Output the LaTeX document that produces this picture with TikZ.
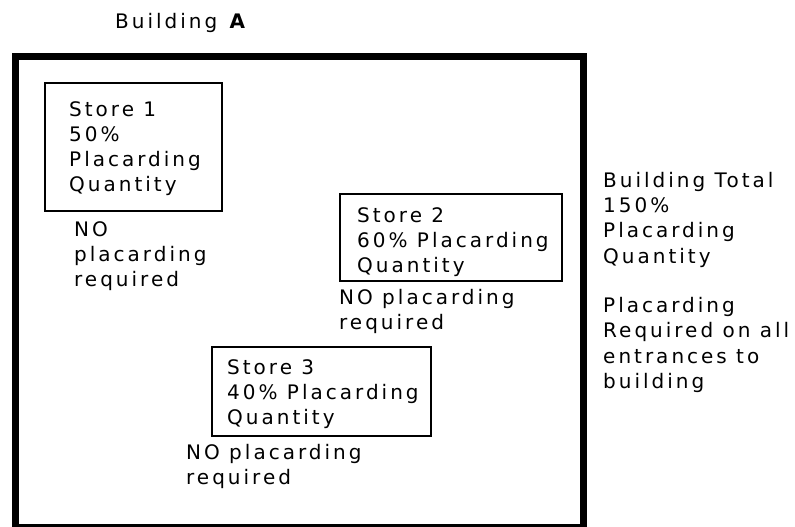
\documentclass[tikz,border=0pt]{standalone}
\usepackage{fontspec}
\setmainfont{DejaVu Sans}[LetterSpace=15]
\begin{document}
\begin{tikzpicture}[x=1pt,y=-1pt,
  every node/.style={inner sep=0pt,anchor=north west,align=left,
    font=\fontsize{20}{25.3}\selectfont},
  wall/.style={line width=6.5pt},
  store/.style={line width=1.8pt}]
\useasboundingbox (0,0) rectangle (795,527);
\node (bldg) at (115,13) {Building \textbf{A}};
\draw [wall] (15.7,56.7) rectangle (583.7,527);
\draw [store] (45,83) rectangle (222,211);
\node (s1) at (69,101) {Store 1\\50\%\\Placarding\\Quantity};
\node (s1no) at (74,221) {NO\\placarding\\required};
\draw [store] (340,194) rectangle (562,281);
\node (s2) at (357,207) {Store 2\\60\% Placarding\\Quantity};
\node (s2no) at (339,289) {NO placarding\\required};
\draw [store] (212,347) rectangle (431,436);
\node (s3) at (227,359) {Store 3\\40\% Placarding\\Quantity};
\node (s3no) at (186,444) {NO placarding\\required};
\node (total) at (603,172) {Building Total\\150\%\\Placarding\\Quantity};
\node (rule) at (603,297) {Placarding\\Required on all\\entrances to\\building};
\end{tikzpicture}
\end{document}
